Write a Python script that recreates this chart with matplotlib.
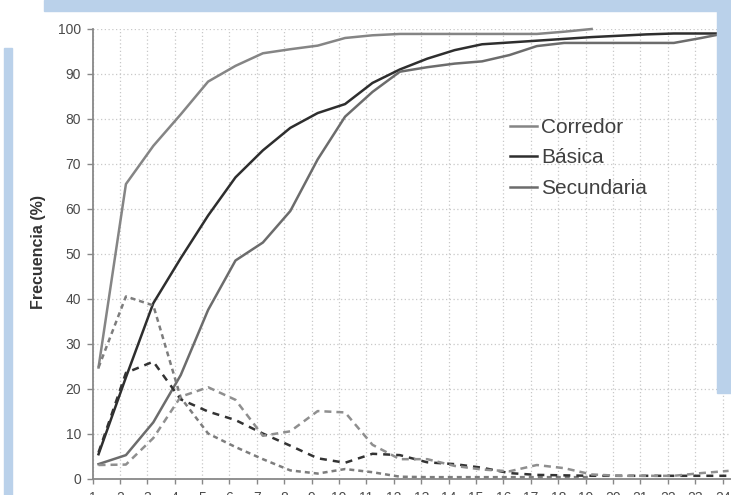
import matplotlib
matplotlib.use('Agg')
import matplotlib.pyplot as plt
from matplotlib.patches import Rectangle

plt.rcParams['font.family'] = ['Liberation Sans', 'DejaVu Sans']

# datos
categorias = list(range(1, 25))
etiquetas = [str(c) for c in categorias]
series = ['Corredor', 'Básica', 'Secundaria']

# frecuencia acumulada (lineas continuas)
corredor_acum = [24.7, 65.5, 74, 81, 88.3, 91.8, 94.6, 95.5, 96.3, 98, 98.6, 98.9,
                 98.9, 98.9, 98.9, 98.9, 98.9, 99.4, 100]
basica_acum = [5.4, 22.5, 39, 49, 58.5, 67, 73, 78, 81.3, 83.3, 88, 91, 93.4, 95.3,
               96.6, 97, 97.4, 97.8, 98.2, 98.5, 98.8, 99, 99, 99]
secundaria_acum = [3.2, 5.2, 12.5, 23, 37.5, 48.5, 52.5, 59.5, 71, 80.5, 86, 90.5,
                   91.5, 92.3, 92.8, 94.2, 96.2, 96.9, 96.9, 96.9, 96.9, 96.9, 98, 99.2]

# frecuencia simple (lineas discontinuas)
corredor_frec = [24.7, 40.5, 38.5, 18, 10, 7, 4.3, 1.8, 1.1, 2.1, 1.4, 0.4, 0.3, 0.3,
                 0.3, 0.3, 0.3, 0.3, 0.3]
basica_frec = [5.8, 23.5, 26, 17.6, 14.9, 13, 10, 7.3, 4.5, 3.5, 5.5, 5.2, 3.6, 3.2,
               2.4, 1.2, 0.8, 0.7, 0.6, 0.6, 0.6, 0.6, 0.6, 0.6]
secundaria_frec = [3, 3.1, 9, 18.2, 20.3, 17.5, 9.5, 10.5, 15, 14.7, 7.5, 4.3, 4.3,
                   2.8, 2, 1.6, 3, 2.3, 0.9, 0.6, 0.6, 0.6, 1.2, 1.7]

W, H = 731, 495
fig = plt.figure(figsize=(W / 100, H / 100), dpi=100)
fig.patch.set_facecolor('white')

# area de trazado en pixeles
x0, x1 = 92.5, 756
y_top, y_bot = 29, 478.5
ax = fig.add_axes([x0 / W, 1 - y_bot / H, (x1 - x0) / W, (y_bot - y_top) / H])

desfase = 0.22
ax.set_xlim(1 - desfase, 25)
ax.set_ylim(0, 100)

col_cor = '#858585'
col_bas = '#2e2e2e'
col_sec = '#6c6c6c'
lw = 1.8

x_cor = categorias[:len(corredor_acum)]
ax.plot(x_cor, corredor_acum, color=col_cor, lw=lw, label=series[0], clip_on=False, zorder=3)
ax.plot(categorias, basica_acum, color=col_bas, lw=lw, label=series[1], clip_on=False, zorder=3)
ax.plot(categorias, secundaria_acum, color=col_sec, lw=lw, label=series[2], clip_on=False, zorder=3)

ax.plot(categorias[:len(corredor_frec)], corredor_frec, color='#7d7d7d', lw=lw,
        ls=(0, (2, 1.6)), clip_on=False, zorder=3)
ax.plot(categorias, basica_frec, color='#333333', lw=lw, ls=(0, (2.8, 2.4)),
        clip_on=False, zorder=3)
ax.plot(categorias, secundaria_frec, color='#8f8f8f', lw=lw, ls=(0, (2.8, 2.0)),
        clip_on=False, zorder=3)

# ejes
ax.set_xticks([c - desfase for c in categorias])
ax.set_xticklabels(etiquetas)
ax.set_yticks(range(0, 101, 10))
ax.tick_params(axis='y', direction='out', length=4.3, width=1, color='#888888',
               labelsize=10, labelcolor='#4a4a4a', pad=4)
ax.tick_params(axis='x', direction='out', length=3.6, width=1, color='#888888',
               labelsize=10, labelcolor='#4a4a4a', pad=5.5)
for s in ['top', 'right']:
    ax.spines[s].set_visible(False)
for s in ['left', 'bottom']:
    ax.spines[s].set_color('#888888')
    ax.spines[s].set_linewidth(1.3)
ax.grid(True, ls=(0, (1, 2)), color='#c8c8c8', lw=0.9)
ax.set_axisbelow(True)

ax.set_ylabel('Frecuencia (%)', fontsize=11.5, fontweight='bold', color='#333333',
              va='center')
ax.yaxis.set_label_coords(39 / W, 1 - 252 / H, transform=fig.transFigure)

leg = ax.legend(loc='upper left', bbox_to_anchor=(510 / W, 1 - 118 / H),
                bbox_transform=fig.transFigure, frameon=False, fontsize=15,
                handlelength=1.3, handletextpad=0.2, labelspacing=0.55,
                borderpad=0, borderaxespad=0)
for t in leg.get_texts():
    t.set_color('#404040')

# marco azul del documento
azul = '#bad1ea'
fig.add_artist(Rectangle((44 / W, 1 - 11 / H), (724 - 44) / W, 11 / H,
                         transform=fig.transFigure, color=azul, zorder=10))
fig.add_artist(Rectangle((717 / W, 1 - 393 / H), (W - 717) / W, 393 / H,
                         transform=fig.transFigure, color=azul, zorder=10))
fig.add_artist(Rectangle((4 / W, 0), 8 / W, 1 - 48 / H,
                         transform=fig.transFigure, color=azul, zorder=10))

fig.savefig('out.png', dpi=100)
